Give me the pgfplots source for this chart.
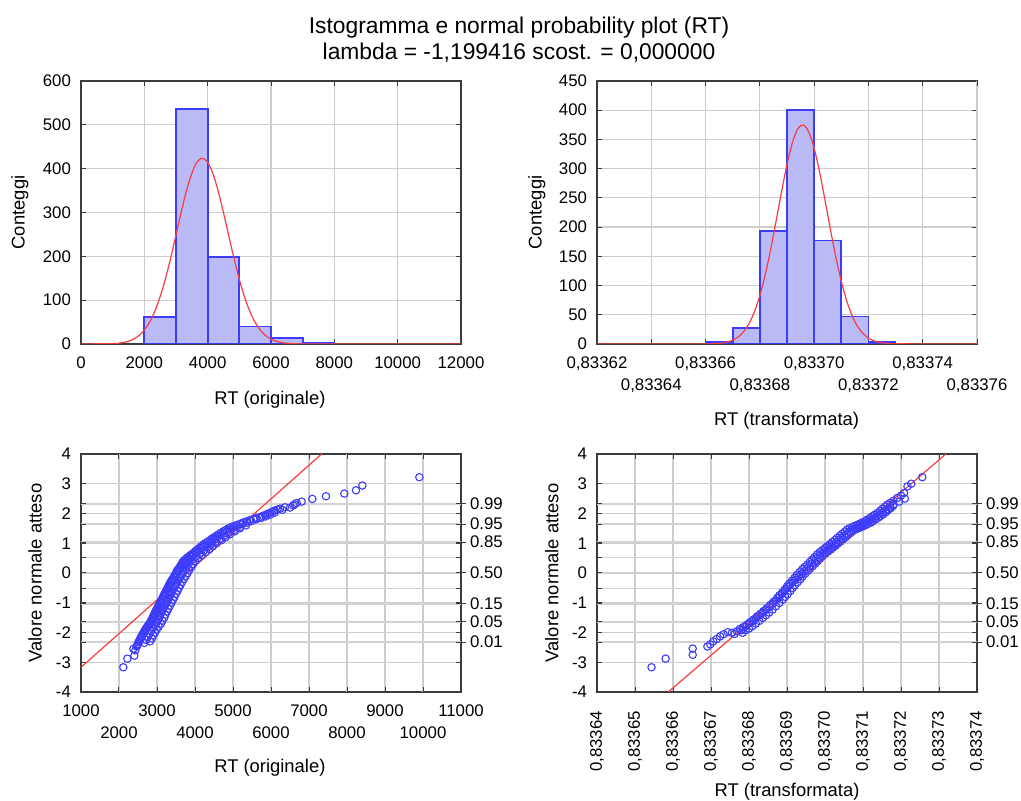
\documentclass[border=0pt]{standalone}
\usepackage{fontspec}
\setmainfont{Liberation Sans}
\usepackage{pgfplots}
\pgfplotsset{compat=1.18}
\definecolor{barfill}{RGB}{186,186,246}
\definecolor{baredge}{RGB}{60,60,250}
\definecolor{curvered}{RGB}{250,60,60}
\definecolor{ptblue}{RGB}{60,60,250}
\definecolor{gridgray}{RGB}{205,205,205}
\definecolor{framegray}{RGB}{60,60,60}
\pgfplotsset{
  base/.style={scale only axis, width=190pt, anchor=north west,
    font=\fontsize{8.4}{10}\selectfont,
    label style={font=\fontsize{9.2}{11}\selectfont},
    /pgf/number format/assume math mode=true,
    grid=major, major grid style={gridgray, line width=0.6pt},
    axis line style={framegray, line width=0.7pt},
    tick style={framegray, line width=0.5pt},
    tick align=inside, major tick length=2.5pt,
    scaled ticks=false,
    yticklabel style={xshift=-1.5pt},
    xticklabel style={yshift=-3pt},
  },
  qq/.style={only marks, mark=o, mark size=1.85pt, mark options={ptblue, line width=0.55pt}},
  prob/.style={scale only axis, width=190pt, height=119pt, anchor=north west,
    font=\fontsize{8.4}{10}\selectfont,
    xmin=0, xmax=1, ymin=-4, ymax=4, hide x axis,
    axis y line*=right, y axis line style={draw=none},
    ytick={-2.326,-1.645,-1.036,0,1.036,1.645,2.326},
    yticklabels={0.01,0.05,0.15,0.50,0.85,0.95,0.99},
    tick align=outside, major tick length=2.5pt,
    tick style={framegray, line width=0.5pt},
    yticklabel style={anchor=west, xshift=-1.5pt},
  },
  probgrid/.style={extra y ticks={-2.326,-1.645,-1.036,-0.524,0.524,1.036,1.645,2.326},
    extra y tick labels={},
    extra y tick style={grid=major, major grid style={gray!35, line width=0.8pt}}},
}
\begin{document}
\begin{tikzpicture}
\useasboundingbox (0,0) rectangle (510.5pt,400.5pt);
\node[font=\fontsize{11.4}{13}\selectfont] at (259.5pt,386.5pt) {Istogramma e normal probability plot (RT)};
\node[font=\fontsize{11.4}{13}\selectfont] at (259.5pt,374pt) {lambda = -1,199416 scost. = 0,000000};

% ---------- top left histogram ----------
\begin{axis}[base, at={(40.5pt,360pt)}, height=131.5pt,
  xmin=0, xmax=12000, ymin=0, ymax=600,
  xtick={0,2000,4000,6000,8000,10000,12000},
  xticklabels={0,2000,4000,6000,8000,10000,12000},
  ytick={0,100,...,600},
  xlabel={RT (originale)}, ylabel={Conteggi},
  xlabel style={at={(axis description cs:0.497,-0.213)}, anchor=center},
  ylabel style={at={(axis description cs:-0.161,0.5)}, anchor=center},
]
\addplot[ybar interval, fill=barfill, draw=baredge, line width=0.9pt] coordinates {
 (2000,62) (3000,537) (4000,199) (5000,40) (6000,14) (7000,3) (8000,0)};
\addplot[curvered, line width=0.6pt, smooth] coordinates {
 (0,0) (1000,0.9) (1200,2.0) (1400,4.4) (1600,9.0) (1800,17.5) (2000,31.8)
 (2200,54.3) (2400,87.2) (2600,131.6) (2800,186.6) (3000,248.9) (3200,311.9)
 (3400,367.5) (3600,407.0) (3800,423.7) (4000,414.6) (4200,381.4) (4400,329.8)
 (4600,268.1) (4800,204.8) (5000,147.1) (5200,99.3) (5400,63.0) (5600,37.6)
 (5800,21.1) (6000,11.1) (6200,5.5) (6400,2.6) (6600,1.1) (6800,0.5) (7000,0.2)
 (8000,0) (12000,0)};
\end{axis}

% ---------- top right histogram (x = (value-0.8336)*1e5) ----------
\begin{axis}[base, at={(298.5pt,360pt)}, height=131.5pt,
  xmin=2, xmax=16, ymin=0, ymax=450,
  xtick={2,6,10,14},
  xticklabels={{0,83362},{0,83366},{0,83370},{0,83374}},
  extra x ticks={4,8,12,16},
  extra x tick labels={{0,83364},{0,83368},{0,83372},{0,83376}},
  extra x tick style={grid=major, xticklabel style={yshift=-11pt}},
  ytick={0,50,...,450},
  xlabel={RT (transformata)}, ylabel={Conteggi},
  xlabel style={at={(axis description cs:0.499,-0.293)}, anchor=center},
  ylabel style={at={(axis description cs:-0.158,0.5)}, anchor=center},
]
\addplot[ybar interval, fill=barfill, draw=baredge, line width=0.9pt] coordinates {
 (6,3) (7,27) (8,193) (9,400) (10,177) (11,47) (12,3) (13,0)};
\addplot[curvered, line width=0.6pt, smooth] coordinates {
 (2,0) (6.0,0.15) (6.2,0.36) (6.4,0.8) (6.6,1.7) (6.8,3.4) (7.0,6.6) (7.2,12.1)
 (7.4,21.0) (7.6,34.9) (7.8,55.2) (8.0,83.0) (8.2,119.0) (8.4,162.3) (8.6,210.9)
 (8.8,260.9) (9.0,307.4) (9.2,344.9) (9.4,368.4) (9.6,374.8) (9.8,363.0)
 (10.0,334.9) (10.2,294.2) (10.4,246.0) (10.6,195.9) (10.8,148.6) (11.0,107.3)
 (11.2,73.8) (11.4,48.3) (11.6,30.1) (11.8,17.9) (12.0,10.1) (12.2,5.4)
 (12.4,2.8) (12.6,1.4) (12.8,0.6) (13.0,0.3) (16,0)};
\end{axis}

% ---------- bottom left normal probability plot ----------
\begin{axis}[base, probgrid, at={(40.5pt,173.5pt)}, height=119pt,
  xmin=1000, xmax=11000, ymin=-4, ymax=4,
  xtick={1000,3000,5000,7000,9000,11000},
  xticklabels={1000,3000,5000,7000,9000,11000},
  extra x ticks={2000,4000,6000,8000,10000},
  extra x tick labels={2000,4000,6000,8000,10000},
  extra x tick style={grid=major, xticklabel style={yshift=-11pt}},
  ytick={-4,...,4},
  xlabel={RT (originale)}, ylabel={Valore normale atteso},
  xlabel style={at={(axis description cs:0.497,-0.319)}, anchor=center},
  ylabel style={at={(axis description cs:-0.121,0.5)}, anchor=center},
]
\addplot[qq] coordinates {
 (2114,-3.17) (2219,-2.88) (2404,-2.78) (2377,-2.55) (2430,-2.60) (2465,-2.47)
 (2490,-2.40) (2510,-2.33) (2530,-2.28) (2553,-2.24) (2570,-2.18) (2590,-2.13)
 (2610,-2.08) (2640,-2.02) (2660,-1.97) (2680,-1.93) (2700,-1.89) (2720,-1.85)
 (2740,-1.81) (2760,-1.77) (2790,-1.72) (2816,-1.68) (2835,-1.63) (2850,-1.59)
 (2870,-1.55) (2890,-1.50) (2905,-1.45) (2920,-1.40) (2940,-1.35) (2960,-1.30)
 (2975,-1.26) (2991,-1.23) (3010,-1.18) (3025,-1.14) (3040,-1.10) (3060,-1.05)
 (3080,-1.00) (3100,-0.95) (3120,-0.90) (3140,-0.85) (3167,-0.78) (3185,-0.73)
 (3210,-0.67) (3240,-0.60) (3260,-0.55) (3280,-0.50) (3300,-0.45) (3320,-0.40)
 (3342,-0.34) (3365,-0.29) (3390,-0.24) (3410,-0.20) (3435,-0.15) (3460,-0.10)
 (3480,-0.06) (3500,-0.01) (3518,0.06) (3545,0.10) (3575,0.15) (3600,0.20)
 (3625,0.25) (3650,0.30) (3670,0.35) (3693,0.39) (3730,0.44) (3765,0.48)
 (3800,0.52) (3850,0.57) (3890,0.61) (3925,0.64) (3956,0.67) (4000,0.72)
 (4040,0.76) (4080,0.80) (4125,0.85) (4170,0.90) (4219,0.95) (4270,1.00)
 (4330,1.05) (4390,1.10) (4440,1.15) (4482,1.18) (4530,1.22) (4580,1.26)
 (4620,1.30) (4680,1.35) (4746,1.40) (4810,1.45) (4880,1.50) (4940,1.54)
 (5009,1.57) (5090,1.61) (5180,1.65) (5270,1.70) (5360,1.74) (5450,1.78)
 (5540,1.81) (5620,1.85) (5711,1.88) (5780,1.92) (5850,1.95) (5910,1.99)
 (5974,2.02) (6040,2.06) (6100,2.10) (6170,2.13) (6237,2.16) (6368,2.21)
 (6588,2.27) (6620,2.31) (6675,2.35) (6807,2.40) (7088,2.49) (7447,2.58)
 (7930,2.67) (8237,2.78) (8404,2.94) (9904,3.22)};
\addplot[qq] coordinates {
 (2480,-2.44) (2540,-2.30) (2600,-2.16) (2670,-2.00) (2710,-1.91) (2770,-1.80)
 (2830,-1.70) (2880,-1.61) (2930,-1.52) (2970,-1.43) (3010,-1.33) (3050,-1.24)
 (3080,-1.16) (3110,-1.07) (3150,-0.98) (3185,-0.88) (3220,-0.80) (3250,-0.70)
 (3300,-0.62) (3330,-0.52) (3370,-0.42) (3400,-0.32) (3440,-0.22) (3490,-0.12)
 (3530,-0.03) (3560,0.04) (3610,0.13) (3650,0.22) (3700,0.28) (3740,0.37)
 (3790,0.42) (3840,0.50) (3900,0.55) (3960,0.62) (4030,0.68) (4090,0.74)
 (4160,0.80) (4230,0.87) (4300,0.93) (4380,1.00) (4450,1.07) (4530,1.13)
 (4600,1.20) (4680,1.27) (4760,1.33) (4840,1.40) (4920,1.46) (5000,1.52)
 (5120,1.58) (5240,1.64) (5360,1.69) (5480,1.74) (5600,1.80) (5740,1.85)
 (5860,1.90) (5980,1.96) (6100,2.03) (6300,2.12) (6500,2.20)};
\addplot[qq] coordinates {
 (2665,-2.35) (2715,-2.25) (2750,-2.15) (2800,-2.05) (2845,-1.95) (2895,-1.85)
 (2955,-1.75) (2995,-1.65) (3040,-1.55) (3070,-1.45) (3110,-1.35) (3150,-1.25)
 (3190,-1.15) (3230,-1.05) (3270,-0.95) (3310,-0.85) (3350,-0.75) (3390,-0.65)
 (3430,-0.55) (3470,-0.45) (3510,-0.35) (3560,-0.25) (3610,-0.15) (3655,-0.05)
 (3695,0.05) (3750,0.15) (3800,0.25) (3850,0.35) (3930,0.45) (4030,0.55)
 (4130,0.65) (4230,0.75) (4320,0.85) (4420,0.95) (4540,1.05) (4655,1.15)
 (4770,1.25) (4896,1.35) (5030,1.45) (5190,1.55)};
\addplot[qq] coordinates {
 (2815,-2.30) (2865,-2.20) (2900,-2.10) (2950,-2.00) (2995,-1.90) (3045,-1.80)
 (3105,-1.70) (3145,-1.60) (3190,-1.50) (3220,-1.40) (3260,-1.30) (3300,-1.20)
 (3340,-1.10) (3380,-1.00) (3420,-0.90) (3460,-0.80) (3500,-0.70) (3540,-0.60)
 (3580,-0.50) (3620,-0.40) (3660,-0.30) (3710,-0.20) (3760,-0.10) (3805,0.00)
 (3845,0.10) (3900,0.20) (3950,0.30) (4000,0.40) (4080,0.50) (4180,0.60)
 (4280,0.70) (4380,0.80) (4470,0.90) (4570,1.00) (4690,1.10) (4805,1.20)
 (4920,1.30) (5046,1.40) (5180,1.50) (5340,1.60)};
\addplot[curvered, line width=0.6pt] coordinates {(1000,-3.17) (7333,4)};
\end{axis}
\begin{axis}[prob, at={(40.5pt,173.5pt)}]
\end{axis}

% ---------- bottom right normal probability plot (x = (value-0.8336)*1e5) ----------
\begin{axis}[base, probgrid, at={(298.5pt,173.5pt)}, height=119pt,
  xmin=4, xmax=14, ymin=-4, ymax=4,
  xtick={4,...,14},
  xticklabels={{0,83364},{0,83365},{0,83366},{0,83367},{0,83368},{0,83369},{0,83370},{0,83371},{0,83372},{0,83373},{0,83374}},
  xticklabel style={rotate=90, anchor=east, yshift=0pt, xshift=-3pt},
  ytick={-4,...,4},
  xlabel={RT (transformata)}, ylabel={Valore normale atteso},
  xlabel style={at={(axis description cs:0.5,-0.42)}, anchor=center},
  ylabel style={at={(axis description cs:-0.119,0.5)}, anchor=center},
]
\addplot[qq] coordinates {
 (5.435,-3.17) (5.805,-2.88) (6.518,-2.54) (6.518,-2.75) (6.905,-2.47) (6.98,-2.40)
 (7.06,-2.30) (7.15,-2.22) (7.24,-2.13) (7.33,-2.06) (7.44,-1.99) (7.55,-2.01)
 (7.68,-1.96) (7.76,-1.88) (7.85,-1.82) (7.94,-1.74) (8.03,-1.65) (8.12,-1.56)
 (8.21,-1.46) (8.30,-1.37) (8.38,-1.28) (8.47,-1.18) (8.56,-1.07) (8.65,-0.96)
 (8.74,-0.84) (8.80,-0.75) (8.87,-0.66) (8.94,-0.55) (9.00,-0.45) (9.06,-0.36)
 (9.13,-0.26) (9.20,-0.16) (9.26,-0.06) (9.33,0.03) (9.40,0.12) (9.46,0.20)
 (9.53,0.28) (9.60,0.37) (9.66,0.45) (9.72,0.53) (9.79,0.62) (9.86,0.70)
 (9.93,0.77) (10.00,0.84) (10.06,0.90) (10.13,0.97) (10.19,1.04) (10.26,1.11)
 (10.32,1.18) (10.39,1.25) (10.45,1.32) (10.52,1.39) (10.58,1.46) (10.65,1.51)
 (10.72,1.55) (10.78,1.58) (10.85,1.62) (10.92,1.66) (10.98,1.70) (11.05,1.74)
 (11.11,1.79) (11.18,1.85) (11.25,1.91) (11.31,1.96) (11.38,2.02) (11.45,2.09)
 (11.51,2.16) (11.58,2.23) (11.64,2.30) (11.72,2.36) (11.80,2.43) (11.90,2.52)
 (12.00,2.60) (12.08,2.69) (12.17,2.91) (12.27,3.00) (12.56,3.22)};
\addplot[qq] coordinates {
 (7.62,-2.05) (7.80,-1.92) (7.90,-1.80) (8.00,-1.70) (8.10,-1.62) (8.18,-1.52)
 (8.27,-1.43) (8.36,-1.34) (8.45,-1.24) (8.54,-1.14) (8.62,-1.03) (8.71,-0.92)
 (8.80,-0.82) (8.86,-0.71) (8.93,-0.61) (9.00,-0.52) (9.07,-0.42) (9.14,-0.32)
 (9.22,-0.23) (9.30,-0.13) (9.38,-0.04) (9.45,0.06) (9.52,0.15) (9.59,0.24)
 (9.66,0.33) (9.73,0.42) (9.80,0.51) (9.87,0.59) (9.94,0.67) (10.01,0.75)
 (10.08,0.82) (10.15,0.89) (10.22,0.96) (10.29,1.03) (10.36,1.11) (10.43,1.18)
 (10.50,1.26) (10.57,1.33) (10.64,1.40) (10.71,1.46) (10.80,1.51) (10.88,1.56)
 (10.96,1.61) (11.04,1.66) (11.12,1.72) (11.20,1.78) (11.28,1.84) (11.36,1.91)
 (11.44,1.98) (11.52,2.05) (11.60,2.12) (11.70,2.20) (11.80,2.30) (11.95,2.40)
 (12.10,2.50)};
\addplot[qq] coordinates {
 (7.83,-2.01) (7.91,-1.93) (8.00,-1.87) (8.09,-1.79) (8.18,-1.70) (8.27,-1.61)
 (8.36,-1.51) (8.45,-1.42) (8.53,-1.33) (8.62,-1.23) (8.71,-1.12) (8.80,-1.01)
 (8.89,-0.89) (8.95,-0.80) (9.02,-0.71) (9.09,-0.60) (9.15,-0.50) (9.21,-0.41)
 (9.28,-0.31) (9.35,-0.21) (9.41,-0.11) (9.48,-0.02) (9.55,0.07) (9.61,0.15)
 (9.68,0.23) (9.75,0.32) (9.81,0.40) (9.87,0.48) (9.94,0.57) (10.01,0.65)
 (10.08,0.72) (10.15,0.79) (10.21,0.85) (10.28,0.92) (10.34,0.99) (10.41,1.06)
 (10.47,1.13) (10.54,1.20) (10.60,1.27) (10.67,1.34) (10.73,1.41) (10.80,1.46)
 (10.87,1.50) (10.93,1.53) (11.00,1.57) (11.07,1.61) (11.13,1.65) (11.20,1.69)
 (11.26,1.74) (11.33,1.80) (11.40,1.86) (11.46,1.91) (11.53,1.97) (11.60,2.04)
 (11.66,2.11) (11.73,2.18) (11.79,2.25)};
\addplot[curvered, line width=0.6pt] coordinates {(5.875,-4) (13.18,4)};
\end{axis}
\begin{axis}[prob, at={(298.5pt,173.5pt)}]
\end{axis}
\end{tikzpicture}
\end{document}
